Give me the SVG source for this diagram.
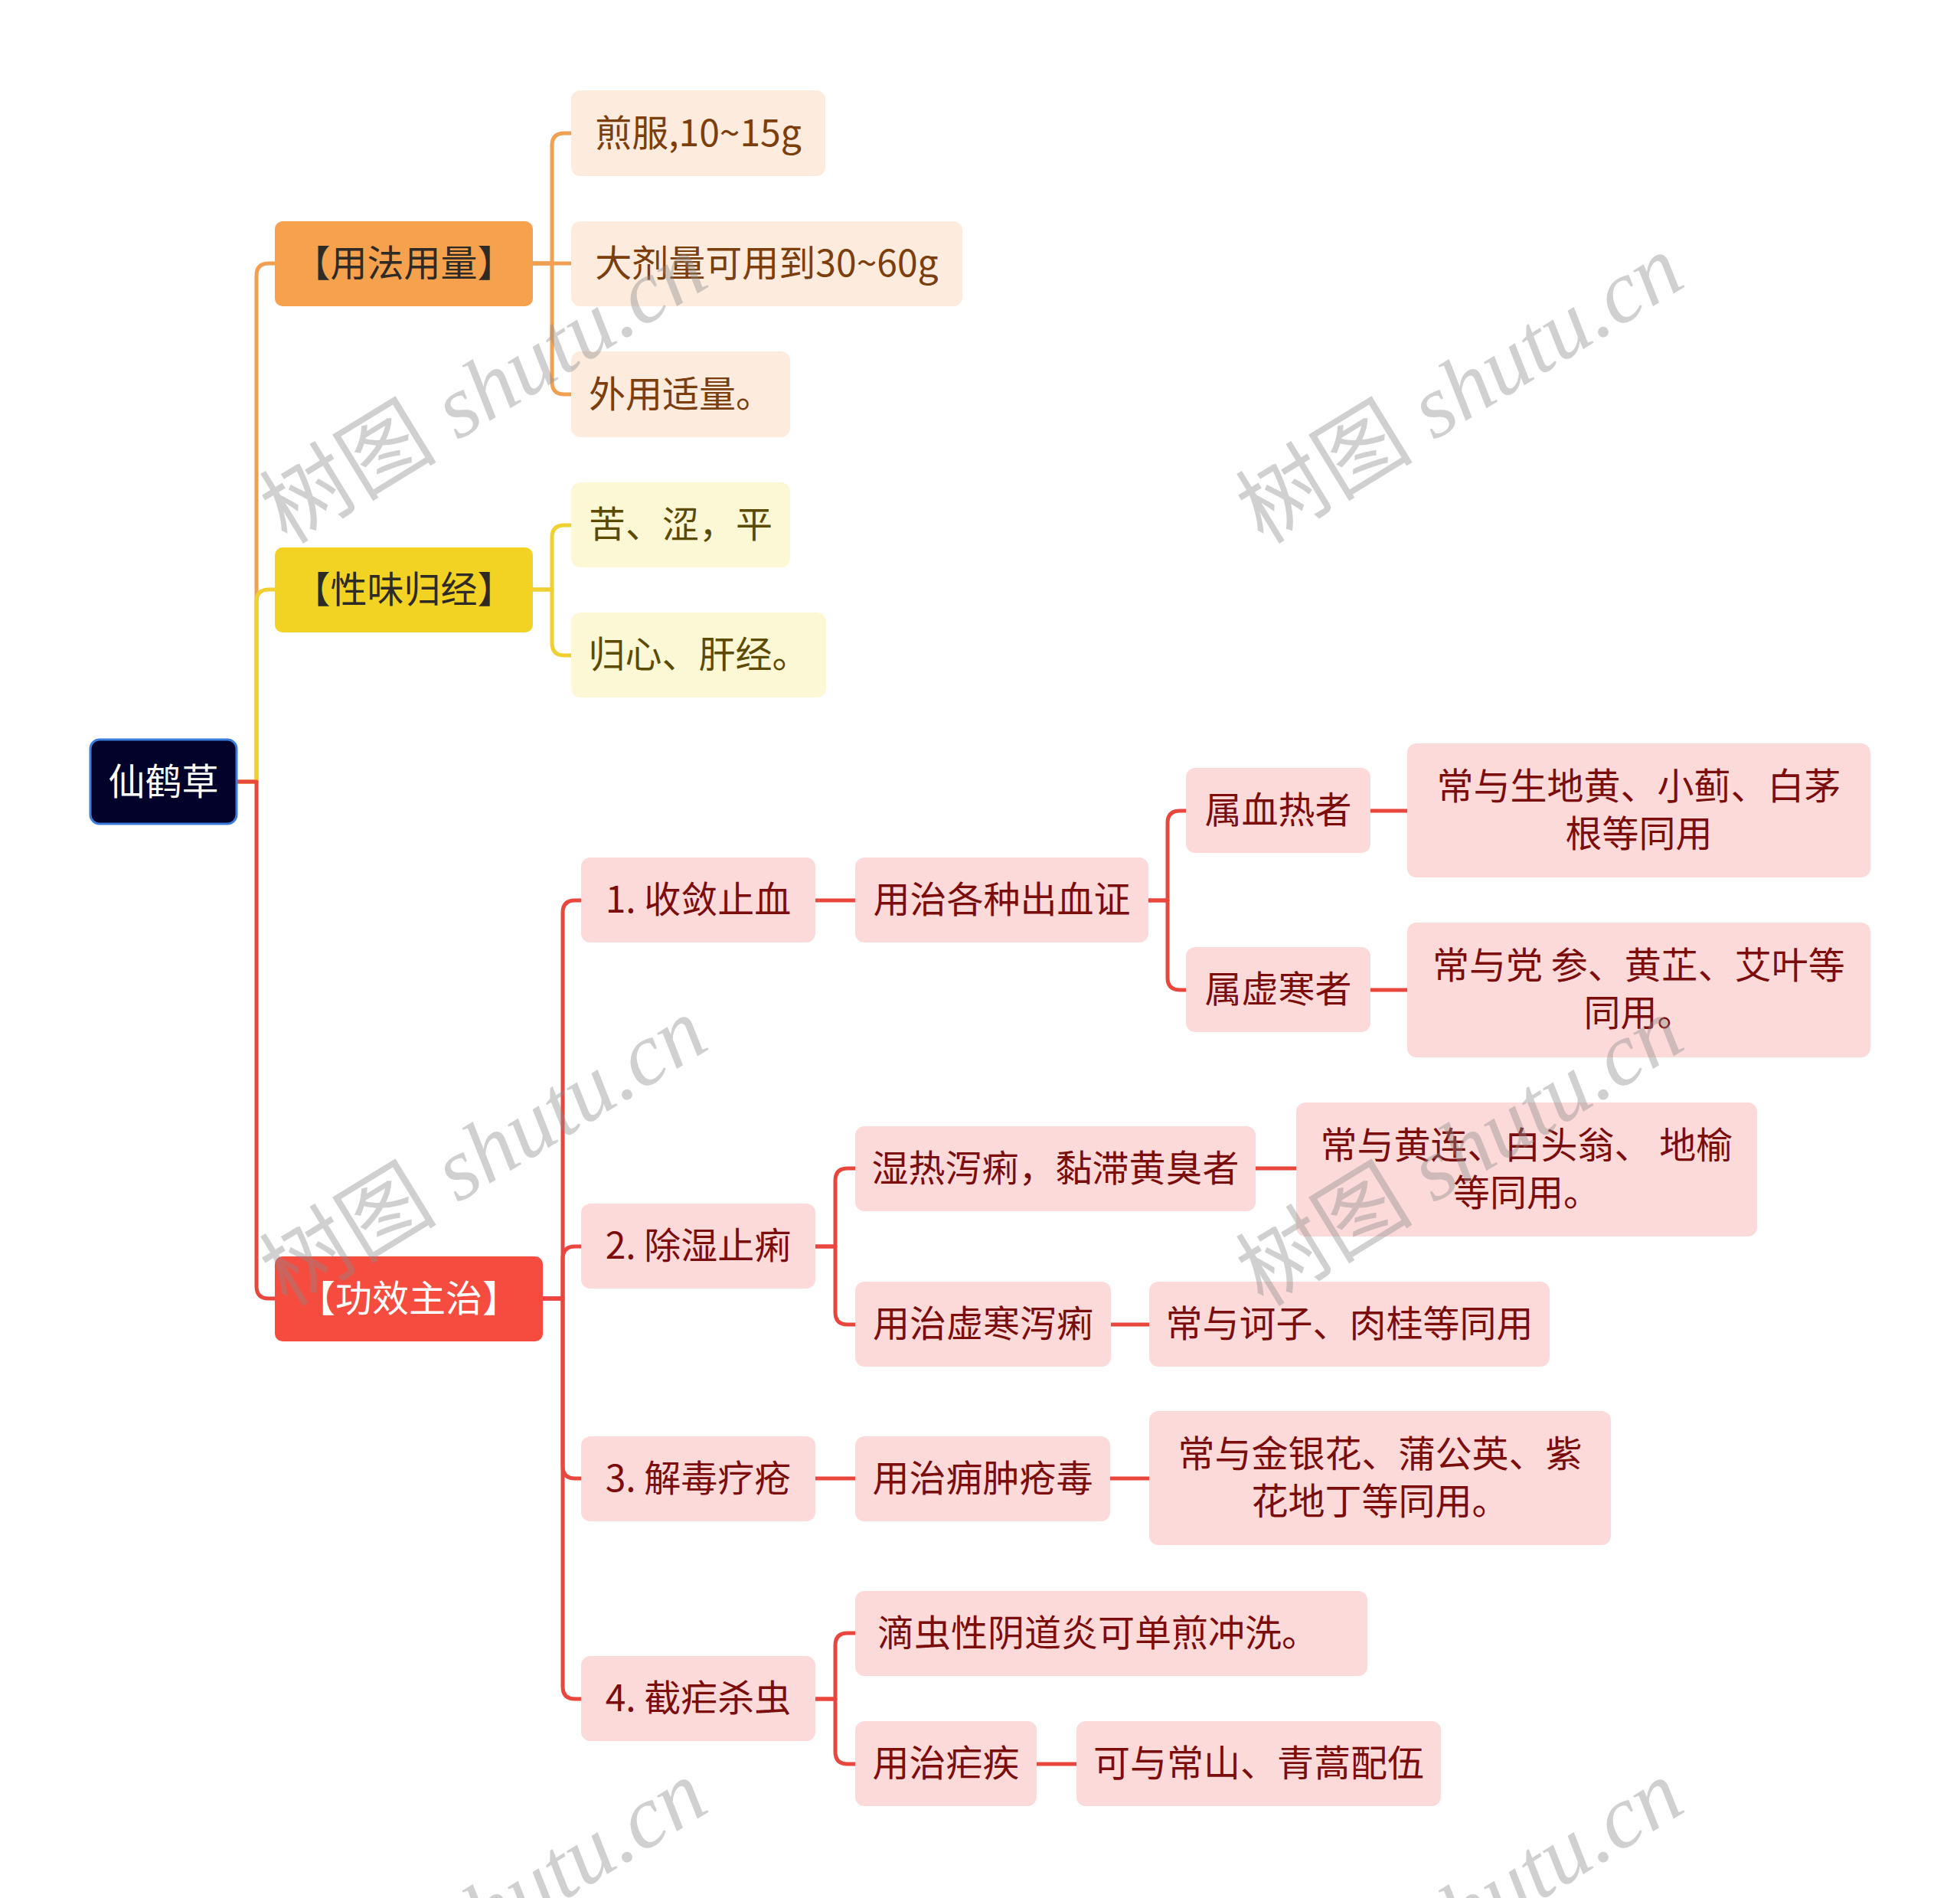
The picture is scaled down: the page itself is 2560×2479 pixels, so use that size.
<svg xmlns="http://www.w3.org/2000/svg" width="2560" height="2479" viewBox="0 0 2560 2479">
<style>
.t{font-family:"Noto Sans CJK SC","Liberation Sans",sans-serif;font-size:48px;text-anchor:middle}
.c{fill:none;stroke-width:5;stroke-linejoin:round}
.co{stroke:#F0A050}.cy{stroke:#F0D030}.cr{stroke:#E9473E}
.o1{fill:#F5A14D}.o2{fill:#FDECDD}
.y1{fill:#F2D323}.y2{fill:#FCF7D5}
.r1{fill:#F54C3F}.r2{fill:#FDDADA}
.to{fill:#7B3E0C}.ty{fill:#5B4A00}.tr{fill:#7B0D0D}.td{fill:#2E2A26}.tw{fill:#FFFFFF}
.wm{font-family:"Liberation Serif","Noto Sans CJK SC",serif;font-size:116px;fill:#8a8a8a;fill-opacity:0.4}
</style>
<rect width="2560" height="2479" fill="#FFFFFF"/>
<g id="connectors">
<path class="c co" d="M309 1021 H335 V360 Q335 344 351 344 H359"/>
<path class="c cy" d="M309 1021 H335 V786 Q335 770 351 770 H359"/>
<path class="c cr" d="M309 1021 H335 V1680 Q335 1696 351 1696 H359"/>
<path class="c co" d="M696 344 H721 V190 Q721 174 737 174 H746"/>
<path class="c co" d="M696 344 H746"/>
<path class="c co" d="M696 344 H721 V499 Q721 515 737 515 H746"/>
<path class="c cy" d="M696 770 H721 V702 Q721 686 737 686 H746"/>
<path class="c cy" d="M696 770 H721 V840 Q721 856 737 856 H746"/>
<path class="c cr" d="M709 1696 H735 V1192 Q735 1176 751 1176 H759"/>
<path class="c cr" d="M709 1696 H735 V1644 Q735 1628 751 1628 H759"/>
<path class="c cr" d="M709 1696 H735 V1915 Q735 1931 751 1931 H759"/>
<path class="c cr" d="M709 1696 H735 V2203 Q735 2219 751 2219 H759"/>
<path class="c cr" d="M1065 1176 H1117"/>
<path class="c cr" d="M1500 1176 H1525 V1075 Q1525 1059 1541 1059 H1549"/>
<path class="c cr" d="M1500 1176 H1525 V1277 Q1525 1293 1541 1293 H1549"/>
<path class="c cr" d="M1790 1059 H1838"/>
<path class="c cr" d="M1790 1293 H1838"/>
<path class="c cr" d="M1065 1628 H1091 V1542 Q1091 1526 1107 1526 H1117"/>
<path class="c cr" d="M1065 1628 H1091 V1714 Q1091 1730 1107 1730 H1117"/>
<path class="c cr" d="M1640 1526 H1693"/>
<path class="c cr" d="M1451 1730 H1501"/>
<path class="c cr" d="M1065 1931 H1117"/>
<path class="c cr" d="M1450 1931 H1501"/>
<path class="c cr" d="M1065 2219 H1091 V2149 Q1091 2133 1107 2133 H1117"/>
<path class="c cr" d="M1065 2219 H1091 V2288 Q1091 2304 1107 2304 H1117"/>
<path class="c cr" d="M1354 2304 H1406"/>
</g>
<g id="root"><rect x="118" y="966" width="191" height="110" rx="12" fill="#02022A" stroke="#3B7BD9" stroke-width="3"/><text class="t tw" x="213.5" y="1038">仙鹤草</text></g>
<g id="n-yfyl"><rect class="o1" x="359" y="289" width="337" height="111" rx="10"/><text class="t td" x="527.5" y="361">【用法用量】</text></g>
<g id="n-jf"><rect class="o2" x="746" y="118" width="332" height="112" rx="12"/><text class="t to" x="912" y="191">煎服,10~15g</text></g>
<g id="n-djl"><rect class="o2" x="746" y="289" width="511" height="111" rx="12"/><text class="t to" x="1001.5" y="361">大剂量可用到30~60g</text></g>
<g id="n-wy"><rect class="o2" x="746" y="459" width="286" height="112" rx="12"/><text class="t to" x="889" y="532">外用适量。</text></g>
<g id="n-xwgj"><rect class="y1" x="359" y="715" width="337" height="111" rx="10"/><text class="t td" x="527.5" y="787">【性味归经】</text></g>
<g id="n-ks"><rect class="y2" x="746" y="630" width="286" height="111" rx="12"/><text class="t ty" x="889" y="702">苦、涩，平</text></g>
<g id="n-gx"><rect class="y2" x="746" y="800" width="333" height="111" rx="12"/><text class="t ty" x="912.5" y="872">归心、肝经。</text></g>
<g id="n-gxzz"><rect class="r1" x="359" y="1641" width="350" height="111" rx="10"/><text class="t tw" x="534" y="1713">【功效主治】</text></g>
<g id="n-1"><rect class="r2" x="759" y="1120" width="306" height="111" rx="12"/><text class="t tr" x="912" y="1192">1. 收敛止血</text></g>
<g id="n-1a"><rect class="r2" x="1117" y="1120" width="383" height="111" rx="12"/><text class="t tr" x="1308.5" y="1192">用治各种出血证</text></g>
<g id="n-1a1"><rect class="r2" x="1549" y="1003" width="241" height="111" rx="12"/><text class="t tr" x="1669.5" y="1075">属血热者</text></g>
<g id="n-1a1a"><rect class="r2" x="1838" y="971" width="605" height="175" rx="12"/><text class="t tr" x="2140.5" y="1044">常与生地黄、小蓟、白茅</text><text class="t tr" x="2140.5" y="1106">根等同用</text></g>
<g id="n-1a2"><rect class="r2" x="1549" y="1237" width="241" height="111" rx="12"/><text class="t tr" x="1669.5" y="1309">属虚寒者</text></g>
<g id="n-1a2a"><rect class="r2" x="1838" y="1205" width="605" height="176" rx="12"/><text class="t tr" x="2140.5" y="1278">常与党 参、黄芷、艾叶等</text><text class="t tr" x="2140.5" y="1340">同用。</text></g>
<g id="n-2"><rect class="r2" x="759" y="1572" width="306" height="111" rx="12"/><text class="t tr" x="912" y="1644">2. 除湿止痢</text></g>
<g id="n-2a"><rect class="r2" x="1117" y="1471" width="523" height="111" rx="12"/><text class="t tr" x="1378.5" y="1543">湿热泻痢，黏滞黄臭者</text></g>
<g id="n-2a1"><rect class="r2" x="1693" y="1440" width="602" height="175" rx="12"/><text class="t tr" x="1994" y="1513">常与黄连、白头翁、 地榆</text><text class="t tr" x="1994" y="1575">等同用。</text></g>
<g id="n-2b"><rect class="r2" x="1117" y="1674" width="334" height="111" rx="12"/><text class="t tr" x="1284" y="1746">用治虚寒泻痢</text></g>
<g id="n-2b1"><rect class="r2" x="1501" y="1674" width="523" height="111" rx="12"/><text class="t tr" x="1762.5" y="1746">常与诃子、肉桂等同用</text></g>
<g id="n-3"><rect class="r2" x="759" y="1876" width="306" height="111" rx="12"/><text class="t tr" x="912" y="1948">3. 解毒疗疮</text></g>
<g id="n-3a"><rect class="r2" x="1117" y="1876" width="333" height="111" rx="12"/><text class="t tr" x="1283.5" y="1948">用治痈肿疮毒</text></g>
<g id="n-3a1"><rect class="r2" x="1501" y="1843" width="603" height="175" rx="12"/><text class="t tr" x="1802.5" y="1916">常与金银花、蒲公英、紫</text><text class="t tr" x="1802.5" y="1978">花地丁等同用。</text></g>
<g id="n-4"><rect class="r2" x="759" y="2163" width="306" height="111" rx="12"/><text class="t tr" x="912" y="2235">4. 截疟杀虫</text></g>
<g id="n-4a"><rect class="r2" x="1117" y="2078" width="669" height="111" rx="12"/><text class="t tr" x="1434" y="2150">滴虫性阴道炎可单煎冲洗。</text></g>
<g id="n-4b"><rect class="r2" x="1117" y="2248" width="237" height="111" rx="12"/><text class="t tr" x="1235.5" y="2320">用治疟疾</text></g>
<g id="n-4b1"><rect class="r2" x="1406" y="2248" width="476" height="111" rx="12"/><text class="t tr" x="1644" y="2320">可与常山、青蒿配伍</text></g>
<g id="watermarks">
<text class="wm" transform="translate(375 712) rotate(-31.5)"><tspan font-family="Noto Sans CJK SC">树图</tspan> <tspan font-style="italic">shutu.cn</tspan></text>
<text class="wm" transform="translate(1650 712) rotate(-31.5)"><tspan font-family="Noto Sans CJK SC">树图</tspan> <tspan font-style="italic">shutu.cn</tspan></text>
<text class="wm" transform="translate(375 1708) rotate(-31.5)"><tspan font-family="Noto Sans CJK SC">树图</tspan> <tspan font-style="italic">shutu.cn</tspan></text>
<text class="wm" transform="translate(1650 1708) rotate(-31.5)"><tspan font-family="Noto Sans CJK SC">树图</tspan> <tspan font-style="italic">shutu.cn</tspan></text>
<text class="wm" transform="translate(375 2704) rotate(-31.5)"><tspan font-family="Noto Sans CJK SC">树图</tspan> <tspan font-style="italic">shutu.cn</tspan></text>
<text class="wm" transform="translate(1650 2704) rotate(-31.5)"><tspan font-family="Noto Sans CJK SC">树图</tspan> <tspan font-style="italic">shutu.cn</tspan></text>
</g>
</svg>
